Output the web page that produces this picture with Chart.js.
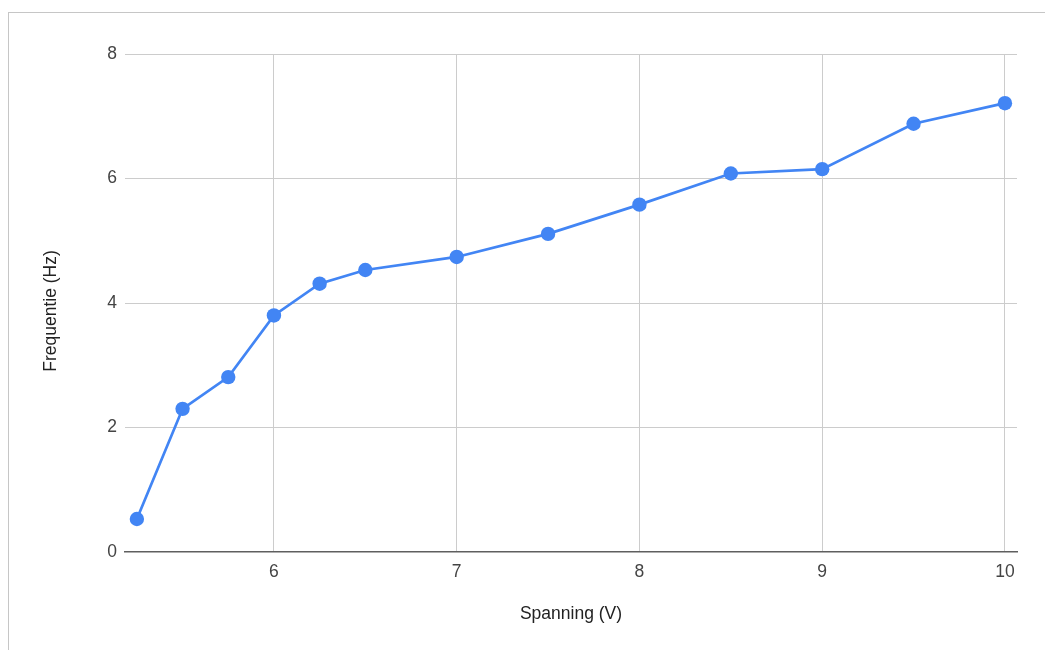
<!DOCTYPE html>
<html>
<head>
<meta charset="utf-8">
<title>Frequentie tegen spanning</title>
<script src="https://cdn.jsdelivr.net/npm/chart.js@4.4.1/dist/chart.umd.min.js"></script>
<style>
  html, body { margin: 0; padding: 0; background: #fff; overflow: hidden; }
  #frame {
    position: absolute; left: 8px; top: 12px;
    width: 1200px; height: 800px;
    border-top: 1px solid #c6c6c6; border-left: 1px solid #c6c6c6;
  }
  #chart { position: absolute; left: 0; top: 0; }
</style>
</head>
<body>
<div id="frame"></div>
<canvas id="chart" width="1045" height="650"></canvas>
<script>
// Measured voltage (V) and resulting frequency (Hz)
const voltage   = [5.25, 5.5, 5.75, 6, 6.25, 6.5, 7, 7.5, 8, 8.5, 9, 9.5, 10];
const frequency = [0.53, 2.30, 2.81, 3.80, 4.31, 4.53, 4.74, 5.11, 5.58, 6.08, 6.15, 6.88, 7.21];

// Tick labels on both axes
const xTicks = [6, 7, 8, 9, 10];
const yTicks = [0, 2, 4, 6, 8];

const FONT = "Arial, 'Liberation Sans', sans-serif";
const BLUE = '#4285F4';

const points = voltage.map((v, i) => ({ x: v, y: frequency[i] }));

// Vertical axis title, placed a little below the middle of the plot area
const yAxisTitle = {
  id: 'yAxisTitle',
  afterDraw(chart, args, opts) {
    const ctx = chart.ctx;
    const area = chart.chartArea;
    ctx.save();
    ctx.translate(opts.x, (area.top + area.bottom) / 2 + opts.shift);
    ctx.rotate(-Math.PI / 2);
    ctx.font = `${opts.size}px ${FONT}`;
    ctx.fillStyle = opts.color;
    ctx.textAlign = 'center';
    ctx.textBaseline = 'middle';
    ctx.fillText(opts.text, 0, 0);
    ctx.restore();
  }
};

new Chart(document.getElementById('chart'), {
  type: 'line',
  data: {
    datasets: [{
      data: points,
      borderColor: BLUE,
      backgroundColor: BLUE,
      borderWidth: 2.7,
      pointRadius: 7.2,
      pointHoverRadius: 7.2,
      pointBorderWidth: 0,
      pointBackgroundColor: BLUE,
      tension: 0,
      fill: false
    }]
  },
  options: {
    responsive: false,
    devicePixelRatio: 1,
    animation: false,
    layout: { padding: { top: 54, right: 28, left: 0, bottom: 0 } },
    plugins: {
      legend: { display: false },
      tooltip: { enabled: false },
      yAxisTitle: { text: 'Frequentie (Hz)', x: 51.5, shift: 8, size: 17.5, color: '#222222' }
    },
    scales: {
      x: {
        type: 'linear',
        min: 5.185,
        max: 10.066,
        afterBuildTicks: s => { s.ticks = xTicks.map(v => ({ value: v })); },
        afterFit: s => { s.height = 98; },
        grid: { color: '#cccccc', lineWidth: 1, drawTicks: false },
        border: { display: true, color: '#5f5f5f', width: 1.6 },
        ticks: {
          padding: 10,
          color: '#444444',
          font: { family: FONT, size: 17.5 },
          maxRotation: 0
        },
        title: {
          display: true,
          text: 'Spanning (V)',
          color: '#222222',
          font: { family: FONT, size: 17.5 },
          padding: { top: 0, bottom: 25.5 }
        }
      },
      y: {
        type: 'linear',
        min: 0,
        max: 8,
        afterBuildTicks: s => { s.ticks = yTicks.map(v => ({ value: v })); },
        afterFit: s => { s.width = 125; },
        grid: {
          color: ctx => (ctx.tick && ctx.tick.value === 0) ? 'rgba(0,0,0,0)' : '#cccccc',
          lineWidth: 1,
          drawTicks: false
        },
        border: { display: false },
        ticks: {
          padding: 8,
          color: '#444444',
          font: { family: FONT, size: 17.5 }
        }
      }
    }
  },
  plugins: [yAxisTitle]
});
</script>
</body>
</html>
